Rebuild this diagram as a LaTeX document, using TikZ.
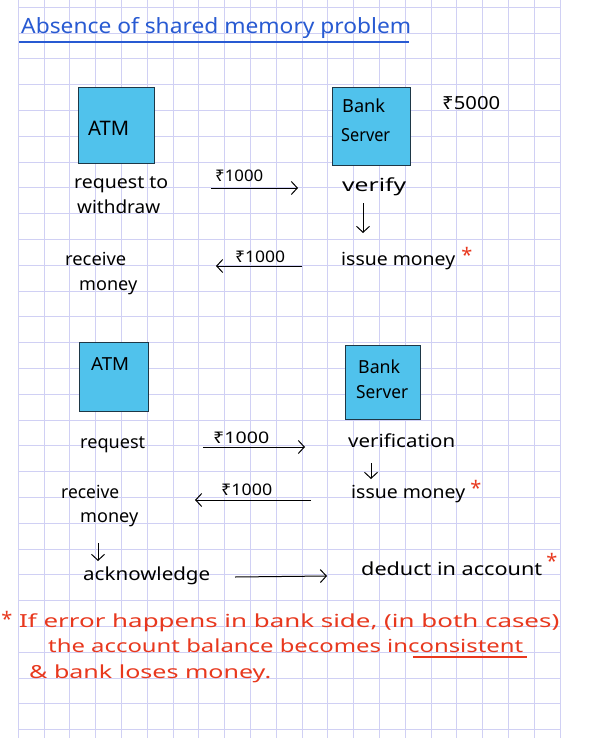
\documentclass[tikz,border=0pt]{standalone}
\usepackage{fontspec}
\setmainfont{Noto Sans}
\usetikzlibrary{arrows.meta}
\definecolor{gridc}{RGB}{208,208,244}
\definecolor{boxfill}{RGB}{80,194,236}
\definecolor{boxdraw}{RGB}{30,55,70}
\definecolor{titleblue}{RGB}{40,90,210}
\definecolor{notered}{RGB}{232,56,30}
\newcommand\fitw[2]{\resizebox{#1}{\height}{#2}}
\begin{document}
\begin{tikzpicture}[x=1pt,y=-1pt,
  hw/.style={anchor=base west, inner sep=0pt, font=\fontsize{18}{20}\selectfont},
  hwbig/.style={hw, font=\fontsize{20}{22}\selectfont},
  hwsmall/.style={hw, font=\fontsize{16}{18}\selectfont},
  red/.style={hw, text=notered},
  box/.style={draw=boxdraw, fill=boxfill, line width=1.2pt, anchor=north west, inner sep=0pt},
  conn/.style={-{Straight Barb[length=6pt,width=13pt]}, line width=1pt},
  ast/.style={text=notered, inner sep=0pt, font=\fontsize{20}{20}\selectfont\bfseries}]
\useasboundingbox (0,0) rectangle (600,738);
\fill[white] (0,0) rectangle (600,738);
% grid
\foreach \i in {0,...,21} \draw[gridc, line width=0.9pt] ({18.3+25.8*\i},0) -- ({18.3+25.8*\i},738);
\foreach \j in {0,...,28} \draw[gridc, line width=0.9pt] (18.3,{7.3+25.8*\j}) -- (560,{7.3+25.8*\j});
% title
\node[hw, text=titleblue, font=\fontsize{21}{22}\selectfont] (title) at (21,34) {\fitw{390pt}{Absence of shared memory problem}};
\coordinate (tu1) at (19,42);
\coordinate (tu2) at (409,42);
\draw[titleblue, line width=1.4pt] (tu1) -- (tu2);
% scenario 1
\node[box, minimum width=76pt, minimum height=76pt] (atm1) at (78,87) {};
\node[hwbig] (atm1t) at (88,136) {\fitw{41pt}{ATM}};
\node[box, minimum width=78pt, minimum height=78pt] (bank1) at (331.5,87) {};
\node[hw] (bank1a) at (342,113) {\fitw{43pt}{Bank}};
\node[hw] (bank1b) at (341,142) {\fitw{49pt}{Server}};
\node[hw] (bal) at (442,110) {\fitw{58pt}{₹5000}};
\node[hw] (req1a) at (74,188) {\fitw{94pt}{request to}};
\node[hw] (req1b) at (77,213) {\fitw{83pt}{withdraw}};
\node[hwsmall] (amt1) at (215,182) {\fitw{48pt}{₹1000}};
\coordinate (a1s) at (211,188);
\coordinate (a1e) at (298,188);
\draw[conn] (a1s) -- (a1e);
\node[hw] (ver1) at (342,192) {\fitw{64pt}{verify}};
\coordinate (d1s) at (363,203);
\coordinate (d1e) at (363,233);
\draw[conn] (d1s) -- (d1e);
\node[hw] (iss1) at (341,265) {\fitw{114pt}{issue money}};
\node[ast] (ast1) at (467,255) {*};
\node[hw] (rec1a) at (65,265) {\fitw{61pt}{receive}};
\node[hw] (rec1b) at (79,290) {\fitw{58pt}{money}};
\node[hwsmall] (amt2) at (235,262) {\fitw{50pt}{₹1000}};
\coordinate (a2s) at (302,266);
\coordinate (a2e) at (216,266);
\draw[conn] (a2s) -- (a2e);
% scenario 2
\node[box, minimum width=69pt, minimum height=69pt] (atm2) at (79,342) {};
\node[hw] (atm2t) at (91,370) {\fitw{38pt}{ATM}};
\node[box, minimum width=75pt, minimum height=74pt] (bank2) at (345,345) {};
\node[hw] (bank2a) at (358,373) {\fitw{42pt}{Bank}};
\node[hw] (bank2b) at (356,398) {\fitw{52pt}{Server}};
\node[hw] (req2) at (80,448) {\fitw{65pt}{request}};
\node[hwsmall] (amt3) at (213,443) {\fitw{56pt}{₹1000}};
\coordinate (a3s) at (203,447);
\coordinate (a3e) at (305,447);
\draw[conn] (a3s) -- (a3e);
\node[hw] (ver2) at (348,447) {\fitw{107pt}{verification}};
\coordinate (d2s) at (371,463);
\coordinate (d2e) at (371,479);
\draw[conn] (d2s) -- (d2e);
\node[hw] (iss2) at (351,498) {\fitw{114pt}{issue money}};
\node[ast] (ast2) at (476,488) {*};
\node[hw] (rec2a) at (61,498) {\fitw{58pt}{receive}};
\node[hw] (rec2b) at (80,522) {\fitw{58pt}{money}};
\node[hwsmall] (amt4) at (221,495) {\fitw{51pt}{₹1000}};
\coordinate (a4s) at (311,500);
\coordinate (a4e) at (195,500);
\draw[conn] (a4s) -- (a4e);
\coordinate (d3s) at (98,543);
\coordinate (d3e) at (98,561);
\draw[conn] (d3s) -- (d3e);
\node[hw] (ack) at (83,580) {\fitw{127pt}{acknowledge}};
\coordinate (a5s) at (235,577);
\coordinate (a5e) at (327,576);
\draw[conn] (a5s) -- (a5e);
\node[hw] (ded) at (361,575) {\fitw{181pt}{deduct in account}};
\node[ast] (ast3) at (552,561) {*};
% note
\node[ast] (ast4) at (7,619) {*};
\node[red] (n1) at (19,627) {\fitw{540pt}{If error happens in bank side, (in both cases)}};
\node[red] (n2) at (48,652) {\fitw{475pt}{the account balance becomes inconsistent}};
\coordinate (u1) at (413,657);
\coordinate (u2) at (527,657);
\draw[notered, line width=1.1pt] (u1) -- (u2);
\node[red] (n3) at (29,678) {\fitw{242pt}{\& bank loses money.}};
\end{tikzpicture}
\end{document}
